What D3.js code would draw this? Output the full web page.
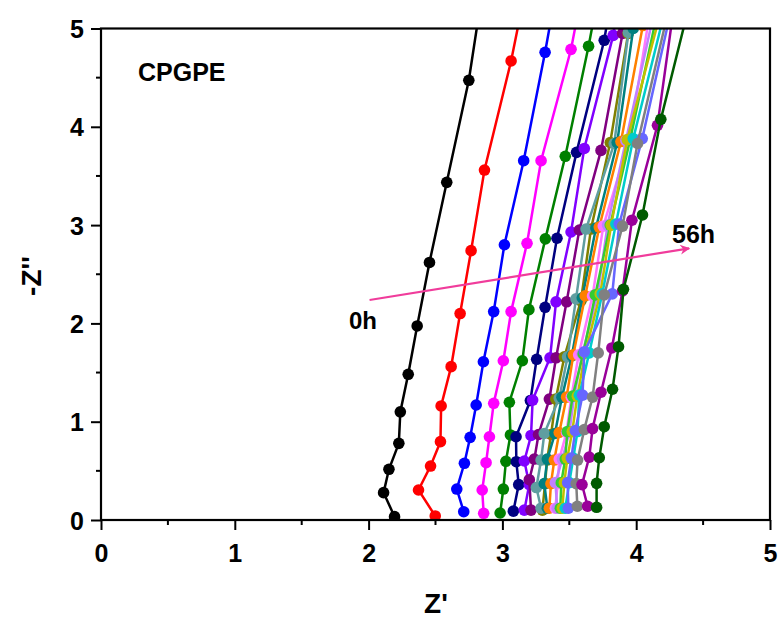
<!DOCTYPE html>
<html>
<head>
<meta charset="utf-8">
<script src="https://cdn.jsdelivr.net/npm/d3@7"></script>
<style>
  html, body { margin: 0; padding: 0; background: #fff; }
  svg text { font-family: "Liberation Sans", Arial, sans-serif; font-weight: bold; }
</style>
</head>
<body>
<svg id="chart" width="783" height="620"></svg>
<script>
// ---- data ----
const xTicks = [0, 1, 2, 3, 4, 5];
const yTicks = [0, 1, 2, 3, 4, 5];
const seriesColors = [
  "#000000", "#ff0000", "#0000ff", "#ff00ff", "#008000", "#000080", "#8000ff",
  "#800080", "#808000", "#5f9ea0", "#008080", "#ff8000", "#ff77ff", "#c080ff",
  "#33cc33", "#c0c000", "#00cccc", "#6666ff", "#808080", "#990099", "#005a00"
];
const zReal = [
  [2.194, 2.112, 2.152, 2.226, 2.237, 2.296, 2.363, 2.455, 2.584, 2.749, 2.898],
  [2.498, 2.373, 2.463, 2.537, 2.542, 2.617, 2.684, 2.766, 2.866, 3.065, 3.262],
  [2.711, 2.659, 2.716, 2.759, 2.804, 2.858, 2.935, 3.015, 3.159, 3.319, 3.496],
  [2.860, 2.849, 2.878, 2.903, 2.935, 3.007, 3.065, 3.184, 3.289, 3.513, 3.697],
  [2.983, 3.007, 3.026, 3.060, 3.052, 3.149, 3.198, 3.321, 3.470, 3.644, 3.822],
  [3.082, 3.122, 3.104, 3.102, 3.209, 3.256, 3.319, 3.408, 3.554, 3.761, 3.920],
  [3.164, 3.201, 3.164, 3.214, 3.226, 3.356, 3.401, 3.513, 3.612, 3.828, 3.980],
  [3.214, 3.201, 3.239, 3.270, 3.351, 3.401, 3.480, 3.575, 3.737, 3.898, 4.050],
  [3.299, 3.319, 3.334, 3.364, 3.399, 3.463, 3.587, 3.662, 3.806, 3.940, 4.090],
  [3.289, 3.254, 3.289, 3.313, 3.425, 3.487, 3.550, 3.625, 3.836, 3.942, 4.100],
  [3.336, 3.313, 3.336, 3.393, 3.445, 3.519, 3.597, 3.699, 3.858, 3.978, 4.130],
  [3.351, 3.363, 3.388, 3.425, 3.480, 3.530, 3.619, 3.724, 3.886, 4.050],
  [3.396, 3.413, 3.425, 3.479, 3.515, 3.570, 3.674, 3.754, 3.948, 4.090],
  [3.410, 3.396, 3.448, 3.500, 3.537, 3.597, 3.711, 3.786, 3.923, 4.120],
  [3.433, 3.440, 3.470, 3.485, 3.525, 3.604, 3.694, 3.806, 3.955, 4.145],
  [3.448, 3.463, 3.485, 3.522, 3.560, 3.619, 3.731, 3.813, 3.933, 4.170],
  [3.470, 3.500, 3.530, 3.561, 3.575, 3.649, 3.746, 3.848, 3.978, 4.200],
  [3.493, 3.488, 3.515, 3.545, 3.599, 3.612, 3.821, 3.873, 4.045, 4.250],
  [3.560, 3.552, 3.562, 3.612, 3.674, 3.716, 3.761, 3.898, 4.010, 4.230],
  [3.637, 3.595, 3.649, 3.674, 3.737, 3.818, 3.898, 3.968, 4.159, 4.280],
  [3.704, 3.704, 3.724, 3.761, 3.823, 3.868, 3.905, 4.047, 4.184, 4.408]
];
const zImag = [
  [0.034, 0.278, 0.516, 0.780, 1.100, 1.482, 1.974, 2.620, 3.435, 4.473, 5.800],
  [0.041, 0.305, 0.549, 0.797, 1.160, 1.560, 2.100, 2.740, 3.560, 4.670, 6.000],
  [0.084, 0.315, 0.577, 0.841, 1.170, 1.610, 2.120, 2.800, 3.655, 4.758, 6.100],
  [0.068, 0.305, 0.583, 0.847, 1.187, 1.620, 2.120, 2.815, 3.655, 4.788, 6.100],
  [0.071, 0.315, 0.597, 0.865, 1.198, 1.620, 2.140, 2.860, 3.700, 4.820, 6.100],
  [0.090, 0.360, 0.593, 0.847, 1.215, 1.635, 2.164, 2.866, 3.740, 4.880, 6.200],
  [0.100, 0.360, 0.600, 0.860, 1.220, 1.650, 2.220, 2.930, 3.780, 4.930, 6.200],
  [0.100, 0.410, 0.620, 0.870, 1.230, 1.650, 2.220, 2.950, 3.760, 4.950, 6.200],
  [0.100, 0.370, 0.610, 0.870, 1.230, 1.660, 2.230, 2.960, 3.840, 4.950, 6.200],
  [0.120, 0.330, 0.610, 0.880, 1.240, 1.660, 2.250, 2.960, 3.830, 4.960, 6.200],
  [0.120, 0.370, 0.620, 0.880, 1.250, 1.670, 2.260, 2.970, 3.840, 5.000, 6.200],
  [0.120, 0.370, 0.610, 0.890, 1.250, 1.680, 2.280, 2.980, 3.850, 5.030],
  [0.120, 0.370, 0.620, 0.890, 1.250, 1.680, 2.280, 2.990, 3.860, 5.060],
  [0.120, 0.380, 0.620, 0.890, 1.260, 1.690, 2.290, 3.000, 3.860, 5.080],
  [0.120, 0.380, 0.620, 0.900, 1.260, 1.690, 2.290, 3.000, 3.870, 5.080],
  [0.120, 0.380, 0.630, 0.900, 1.260, 1.700, 2.300, 3.000, 3.870, 5.100],
  [0.120, 0.380, 0.630, 0.900, 1.270, 1.700, 2.300, 3.010, 3.880, 5.100],
  [0.120, 0.380, 0.630, 0.910, 1.270, 1.710, 2.300, 3.010, 3.880, 5.120],
  [0.140, 0.370, 0.610, 0.920, 1.250, 1.700, 2.290, 2.990, 3.830, 5.120],
  [0.140, 0.360, 0.640, 0.930, 1.300, 1.750, 2.330, 3.050, 4.015, 5.200],
  [0.129, 0.373, 0.634, 0.949, 1.330, 1.763, 2.347, 3.103, 4.076, 5.300]
];
const arrowStart = [2.007, 2.238];
const arrowEnd = [4.396, 2.764];
const startLabel = "0h";
const endLabel = "56h";
const sampleLabel = "CPGPE";

// ---- layout ----
const svg = d3.select("#chart");
const L = 101, R = 770, T = 28.5, B = 520;
const x = d3.scaleLinear().domain([0, 5]).range([L, R]);
const y = d3.scaleLinear().domain([0, 5]).range([B, T]);

svg.append("defs").append("clipPath").attr("id", "clip")
  .append("rect").attr("x", L).attr("y", T).attr("width", R - L).attr("height", B - T);

const plot = svg.append("g").attr("clip-path", "url(#clip)");
const line = d3.line().x(d => x(d[0])).y(d => y(d[1]));

seriesColors.forEach((c, i) => {
  const pts = zReal[i].map((v, j) => [v, zImag[i][j]]);
  plot.append("path").datum(pts)
    .attr("d", line).attr("fill", "none")
    .attr("stroke", c).attr("stroke-width", 2.5);
  plot.selectAll(null).data(pts).enter().append("circle")
    .attr("cx", d => x(d[0])).attr("cy", d => y(d[1]))
    .attr("r", 5.8).attr("fill", c);
});

// axes
const xAxis = d3.axisBottom(x).tickValues(xTicks).tickSize(10).tickFormat(d3.format("d"));
const yAxis = d3.axisLeft(y).tickValues(yTicks).tickSize(10).tickFormat(d3.format("d"));
const gx = svg.append("g").attr("transform", `translate(0,${B})`).call(xAxis);
const gy = svg.append("g").attr("transform", `translate(${L},0)`).call(yAxis);
[gx, gy].forEach(g => {
  g.select(".domain").remove();
  g.selectAll(".tick line").attr("stroke", "#000").attr("stroke-width", 2);
  g.selectAll(".tick text").attr("font-size", 25).attr("fill", "#000")
    .style("font-family", '"Liberation Sans", Arial, sans-serif').style("font-weight", "bold");
});
gx.selectAll(".tick text").attr("dy", "0").attr("y", 42);
gy.selectAll(".tick text").attr("x", -17).attr("dy", "0.36em");

// minor ticks
const minor = [0.5, 1.5, 2.5, 3.5, 4.5];
svg.append("g").selectAll("line").data(minor).enter().append("line")
  .attr("x1", d => x(d)).attr("x2", d => x(d)).attr("y1", B).attr("y2", B + 5)
  .attr("stroke", "#000").attr("stroke-width", 2);
svg.append("g").selectAll("line").data(minor).enter().append("line")
  .attr("x1", L - 5).attr("x2", L).attr("y1", d => y(d)).attr("y2", d => y(d))
  .attr("stroke", "#000").attr("stroke-width", 2);

// frame
svg.append("rect").attr("x", L).attr("y", T).attr("width", R - L).attr("height", B - T)
  .attr("fill", "none").attr("stroke", "#000").attr("stroke-width", 2.2);

// arrow
svg.append("defs").append("marker").attr("id", "ah")
  .attr("viewBox", "0 0 10 10").attr("refX", 9).attr("refY", 5)
  .attr("markerWidth", 6).attr("markerHeight", 4.5).attr("markerUnits", "strokeWidth")
  .attr("orient", "auto")
  .append("path").attr("d", "M0,0 L10,5 L0,10 L3,5 Z").attr("fill", "#f03c9b");
svg.append("line")
  .attr("x1", x(arrowStart[0])).attr("y1", y(arrowStart[1]))
  .attr("x2", x(arrowEnd[0])).attr("y2", y(arrowEnd[1]))
  .attr("stroke", "#f03c9b").attr("stroke-width", 2.2).attr("marker-end", "url(#ah)");

// labels
svg.append("text").attr("x", 377).attr("y", 329).attr("text-anchor", "end")
  .attr("font-size", 24).text(startLabel);
svg.append("text").attr("x", 672).attr("y", 243).attr("font-size", 25).text(endLabel);
svg.append("text").attr("x", 138).attr("y", 81).attr("font-size", 25).text(sampleLabel);

svg.append("text").attr("x", 436).attr("y", 613).attr("text-anchor", "middle")
  .attr("font-size", 28).text("Z'");
svg.append("text").attr("transform", "translate(41,276) rotate(-90)")
  .attr("text-anchor", "middle").attr("font-size", 28).text("-Z''");
</script>
</body>
</html>
